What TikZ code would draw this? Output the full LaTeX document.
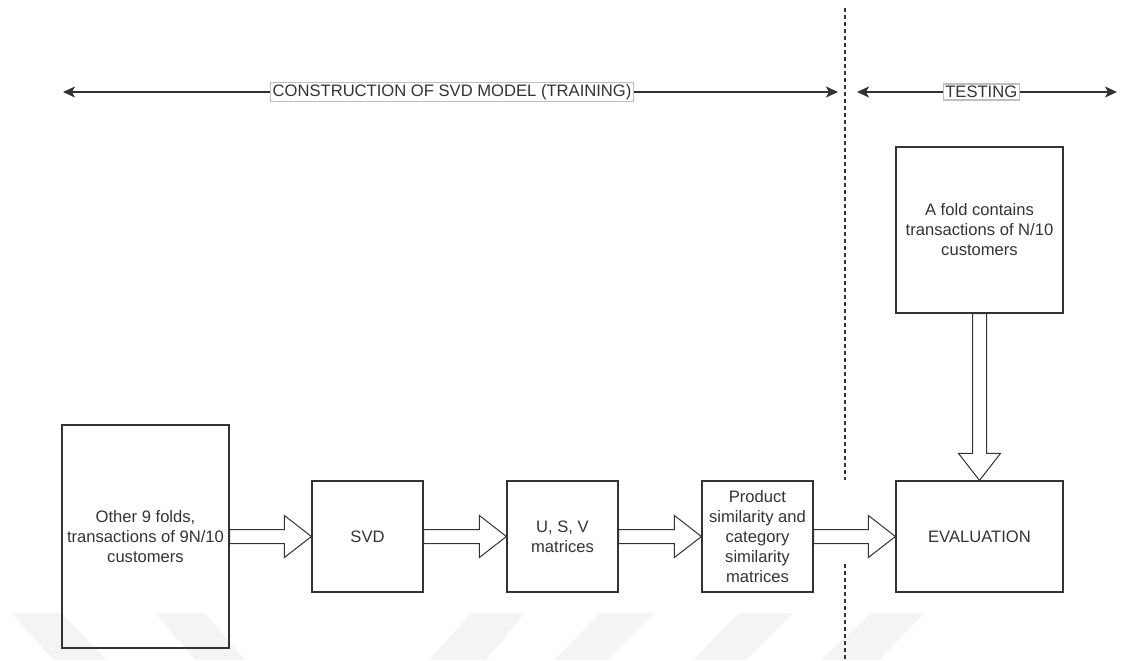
\documentclass[tikz,border=0pt]{standalone}
\usepackage{fontspec}
\setmainfont{Liberation Sans}
\usetikzlibrary{arrows.meta,calc}

\definecolor{inkgray}{HTML}{333333}
\definecolor{markgray}{HTML}{F4F4F4}

\tikzset{
    stage/.style={draw=inkgray, line width=0.6pt, text=inkgray, align=center,
        font=\fontsize{8.3}{10}\selectfont, inner sep=0pt},
    phaselabel/.style={draw=black!25, fill=white, text=inkgray, inner sep=1pt,
        font=\fontsize{8.3}{10}\selectfont},
    phasearrow/.style={inkgray, line width=0.7pt, {Stealth[length=6pt,width=5.5pt,inset=1.5pt]}-{Stealth[length=6pt,width=5.5pt,inset=1.5pt]}},
    blockarrow/.style={draw=inkgray, line width=0.5pt, fill=white, line join=miter},
    phaseline/.style={inkgray, line width=0.6pt, dash pattern=on 2pt off 1.5pt}
}

% wide hollow arrow from the east side of #1 to the west side of #2
\newcommand{\harrow}[2]{%
    \draw[blockarrow] let \p1=(#1.east), \p2=(#2.west) in
        (\x1,\y1+3.5pt) -- (\x2-13.5pt,\y1+3.5pt) -- (\x2-13.5pt,\y1+10.5pt)
        -- (\x2,\y1) -- (\x2-13.5pt,\y1-10.5pt) -- (\x2-13.5pt,\y1-3.5pt)
        -- (\x1,\y1-3.5pt) -- cycle;}

\begin{document}
\begin{tikzpicture}[x=0.5pt,y=-0.5pt]
        \useasboundingbox (0,0) rectangle (1121,660);

        % faint watermark stripes
        \fill[markgray] (11,613) -- (61,613) -- (107,660) -- (54,660) -- cycle;
        \fill[markgray] (155,613) -- (205,613) -- (245,660) -- (195,660) -- cycle;
        \fill[markgray] (471,613) -- (525,613) -- (486,660) -- (429,660) -- cycle;
        \fill[markgray] (600,613) -- (654,613) -- (607,660) -- (554,660) -- cycle;
        \fill[markgray] (739,613) -- (793,613) -- (746,660) -- (693,660) -- cycle;
        \fill[markgray] (871,613) -- (925,613) -- (879,660) -- (821,660) -- cycle;

        % training / testing split
        \coordinate (cutTop) at (845,8);
        \coordinate (cutMidA) at (845,480);
        \coordinate (cutMidB) at (845,564);
        \coordinate (cutBot) at (845,660);
        \draw[phaseline] (cutTop) -- (cutMidA);
        \draw[phaseline] (cutMidB) -- (cutBot);

        % phase arrows
        \coordinate (trainL) at (63,92);
        \coordinate (trainR) at (838,92);
        \coordinate (testL) at (857,92);
        \coordinate (testR) at (1117,92);
        \draw[phasearrow] (trainL) -- (trainR)
            node[phaselabel, pos=0.502] (trainlabel) {CONSTRUCTION OF SVD MODEL (TRAINING)};
        \draw[phasearrow] (testL) -- (testR)
            node[phaselabel, pos=0.478] (testlabel) {TESTING};

        % stages
        \node[stage, minimum width=83.5pt, minimum height=111.5pt] (folds) at (145.5,536.5)
            {Other 9 folds,\\transactions of 9N/10\\customers};
        \node[stage, minimum width=55.5pt, minimum height=55.5pt] (svd) at (367.5,536.5) {SVD};
        \node[stage, minimum width=55.5pt, minimum height=55.5pt] (usv) at (562.5,536.5)
            {U, S, V\\matrices};
        \node[stage, minimum width=55.5pt, minimum height=55.5pt] (simmat) at (757.5,536.5)
            {Product\\similarity and\\category\\similarity\\matrices};
        \node[stage, minimum width=83.5pt, minimum height=55.5pt] (eval) at (979.5,536.5)
            {EVALUATION};
        \node[stage, minimum width=83.5pt, minimum height=83pt] (testfold) at (979.5,230)
            {A fold contains\\transactions of N/10\\customers};

        % flow
        \harrow{folds}{svd}
        \harrow{svd}{usv}
        \harrow{usv}{simmat}
        \harrow{simmat}{eval}
        \draw[blockarrow] let \p1=(testfold.south), \p2=(eval.north) in
            (\x1-3.5pt,\y1) -- (\x1-3.5pt,\y2+13.5pt) -- (\x1-10.5pt,\y2+13.5pt)
            -- (\x1,\y2) -- (\x1+10.5pt,\y2+13.5pt) -- (\x1+3.5pt,\y2+13.5pt)
            -- (\x1+3.5pt,\y1) -- cycle;
    \end{tikzpicture}
\end{document}
